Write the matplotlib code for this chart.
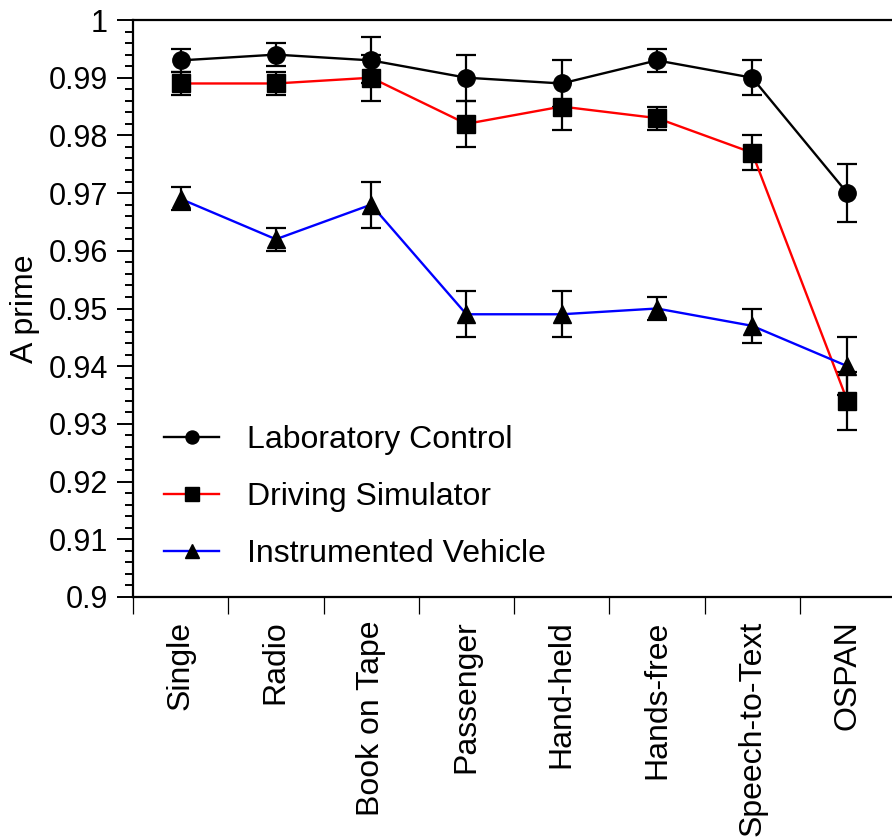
import matplotlib
matplotlib.use("Agg")
import matplotlib.pyplot as plt
from matplotlib.ticker import MultipleLocator, FuncFormatter

plt.rcParams['font.family'] = ['Liberation Sans', 'DejaVu Sans']

conditions = ["Single", "Radio", "Book on Tape", "Passenger",
              "Hand-held", "Hands-free", "Speech-to-Text", "OSPAN"]

lab_mean = [0.993, 0.994, 0.993, 0.990, 0.989, 0.993, 0.990, 0.970]
lab_err = [0.002, 0.002, 0.004, 0.004, 0.004, 0.002, 0.003, 0.005]

sim_mean = [0.989, 0.989, 0.990, 0.982, 0.985, 0.983, 0.977, 0.934]
sim_err = [0.002, 0.002, 0.004, 0.004, 0.004, 0.002, 0.003, 0.005]

veh_mean = [0.969, 0.962, 0.968, 0.949, 0.949, 0.950, 0.947, 0.940]
veh_err = [0.002, 0.002, 0.004, 0.004, 0.004, 0.002, 0.003, 0.005]

series = [
    ("Laboratory Control", lab_mean, lab_err, "black", "o"),
    ("Driving Simulator", sim_mean, sim_err, "red", "s"),
    ("Instrumented Vehicle", veh_mean, veh_err, "blue", "^"),
]

W, H = 892, 840
fig = plt.figure(figsize=(W / 100, H / 100), dpi=100)
ax = fig.add_axes([133 / W, (H - 597) / H, 762 / W, 577 / H])

x = list(range(len(conditions)))
for name, mean, err, color, marker in series:
    ax.errorbar(x, mean, yerr=err, fmt="none", ecolor="black",
                elinewidth=1.6, capsize=7, capthick=1.6, zorder=3)
    ax.plot(x, mean, color=color, lw=1.7, marker=marker, ms=12.5,
            mfc="black", mec="black", label=name, zorder=4)

ax.set_xlim(-0.5, 7.5)
ax.set_ylim(0.9, 1.0)

# y axis: labelled every 0.01, minor ticks every 0.002
ax.yaxis.set_major_locator(MultipleLocator(0.01))
ax.yaxis.set_minor_locator(MultipleLocator(0.002))
ax.yaxis.set_major_formatter(FuncFormatter(lambda v, p: f"{v:.2f}".rstrip("0").rstrip(".")))
ax.tick_params(axis="y", which="major", direction="out", length=11.5,
               width=1.4, labelsize=22, pad=6.5)
ax.tick_params(axis="y", which="minor", direction="out", length=5.8, width=1.4)

# x axis: labels at category centres, ticks at category boundaries
ax.set_xticks(x)
ax.set_xticklabels(conditions, rotation=90, fontsize=23)
ax.set_xticks([i - 0.5 for i in range(len(conditions) + 1)], minor=True)
ax.tick_params(axis="x", which="major", length=0, pad=17)
ax.tick_params(axis="x", which="minor", direction="out", length=12, width=0.9)

for side in ("left", "top", "bottom"):
    ax.spines[side].set_linewidth(1.6)
ax.spines["right"].set_visible(False)

ax.set_ylabel("A prime", fontsize=23, va="center")
ax.yaxis.set_label_coords(-0.142, 0.5)

leg = ax.legend(loc="upper left", bbox_to_anchor=(0.024, 0.32), frameon=False,
                fontsize=23, handlelength=1.72, handletextpad=0.88,
                labelspacing=0.84, markerscale=0.75, borderaxespad=0)

fig.savefig("out.png", dpi=100)
